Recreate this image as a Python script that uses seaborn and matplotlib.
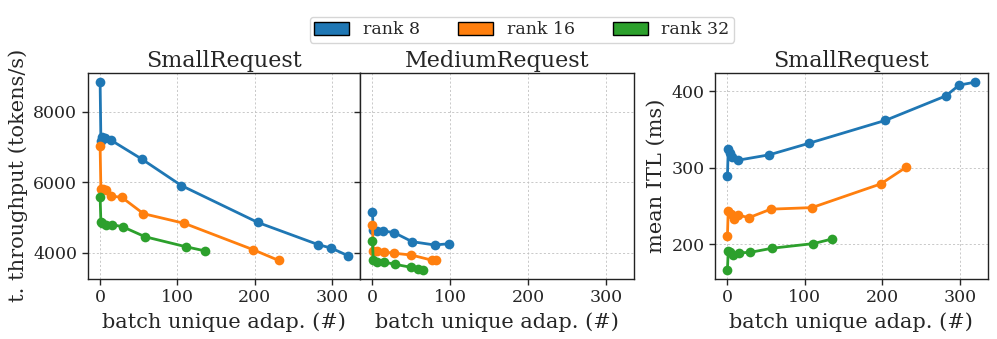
import numpy as np
import pandas as pd
import matplotlib
matplotlib.use("Agg")
import matplotlib.pyplot as plt
import seaborn as sns
from matplotlib.patches import Patch

sns.set_style("white")
plt.rcParams['font.family'] = ['DejaVu Serif']

ranks = ["rank 8", "rank 16", "rank 32"]
colors = ["#1f77b4", "#ff7f0e", "#2ca02c"]

# SmallRequest
small_x8 = [0, 1, 3, 6, 14, 54, 105, 204, 282, 299, 320]
small_tp8 = [8850, 7185, 7290, 7270, 7200, 6660, 5910, 4860, 4230, 4130, 3920]
small_itl8 = [289, 324, 320, 314, 310, 317, 332, 362, 394, 408, 412]

small_x16 = [0, 1, 4, 8, 14, 28, 56, 109, 198, 231]
small_tp16 = [7030, 5800, 5810, 5780, 5610, 5575, 5110, 4835, 4085, 3780]
small_itl16 = [211, 244, 240, 233, 238, 235, 246, 248, 279, 301]

small_x32 = [0, 1, 3, 7, 15, 29, 58, 111, 135]
small_tp32 = [5590, 4870, 4840, 4790, 4800, 4740, 4455, 4170, 4055]
small_itl32 = [167, 191, 190, 186, 189, 189.5, 195, 201, 207]

# MediumRequest
med_x8 = [0, 1, 6, 14, 28, 51, 80, 98]
med_tp8 = [5160, 4640, 4610, 4620, 4570, 4315, 4220, 4255]
med_x16 = [0, 1, 6, 15, 28, 50, 77, 82]
med_tp16 = [4790, 4060, 4050, 4020, 3985, 3935, 3785, 3780]
med_x32 = [0, 1, 6, 15, 29, 50, 58, 65]
med_tp32 = [4325, 3790, 3745, 3735, 3670, 3585, 3540, 3520]


def build(xs, ys):
    frames = []
    for r, x, y in zip(ranks, xs, ys):
        frames.append(pd.DataFrame({"x": x, "y": y, "rank": r}))
    return pd.concat(frames, ignore_index=True)


df_small_tp = build([small_x8, small_x16, small_x32], [small_tp8, small_tp16, small_tp32])
df_med_tp = build([med_x8, med_x16, med_x32], [med_tp8, med_tp16, med_tp32])
df_small_itl = build([small_x8, small_x16, small_x32], [small_itl8, small_itl16, small_itl32])

fig = plt.figure(figsize=(9.97, 3.39), dpi=100)
bottom, height = 0.177, 0.6085
ax1 = fig.add_axes([0.088, bottom, 0.2731, height])
ax2 = fig.add_axes([0.3611, bottom, 0.2745, height], sharey=ax1, sharex=ax1)
ax3 = fig.add_axes([0.7172, bottom, 0.2735, height], sharex=ax1)

palette = dict(zip(ranks, colors))
for ax, df, title in [(ax1, df_small_tp, "SmallRequest"),
                      (ax2, df_med_tp, "MediumRequest"),
                      (ax3, df_small_itl, "SmallRequest")]:
    sns.lineplot(data=df, x="x", y="y", hue="rank", palette=palette, sort=False,
                 estimator=None, marker="o", markersize=7, markeredgewidth=0,
                 linewidth=2, legend=False, ax=ax)
    ax.set_title(title, fontsize=16, pad=4)
    ax.set_xlabel("batch unique adap. (#)", fontsize=15)
    ax.grid(True, linestyle=(0, (2.5, 2.5)), color="#c0c0c0", linewidth=0.6)
    ax.tick_params(axis="both", labelsize=12.5, length=4, width=1, direction="out",
                   left=True, bottom=True)
    for s in ax.spines.values():
        s.set_color("#222222")
        s.set_linewidth(1)

ax1.set_xticks([0, 100, 200, 300])
ax1.set_yticks([4000, 6000, 8000])
ax1.set_ylabel("t. throughput (tokens/s)", fontsize=15)
ax2.set_ylabel("")
plt.setp(ax2.get_yticklabels(), visible=False)
ax3.set_ylabel("mean ITL (ms)", fontsize=15)
ax3.set_yticks([200, 300, 400])

handles = [Patch(facecolor=c, edgecolor="black", label=r) for r, c in zip(ranks, colors)]
fig.legend(handles=handles, loc="upper center", bbox_to_anchor=(0.5235, 1 - 17 / 339),
           ncol=3, fontsize=12.5, frameon=True, handlelength=2.0, handleheight=0.8,
           columnspacing=2.2, borderpad=0.25, borderaxespad=0.0)

fig.savefig("out.png", dpi=100)
